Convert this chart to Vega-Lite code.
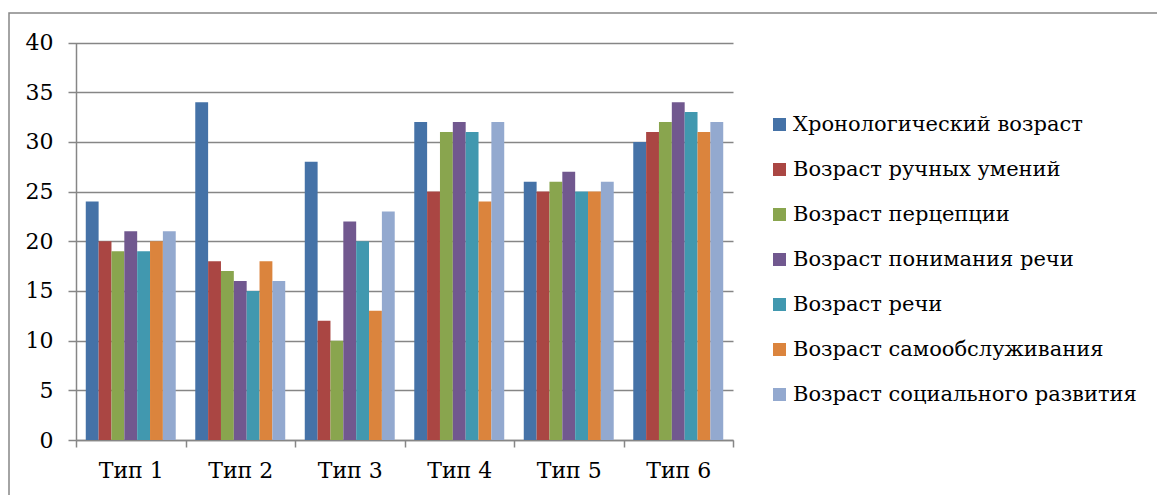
{
  "$schema": "https://vega.github.io/schema/vega-lite/v6.json",
  "autosize": {"type": "none"},
  "padding": {"left": 9, "top": 13, "right": 0, "bottom": 0},
  "width": 1152,
  "height": 486,
  "background": "white",
  "config": {
    "view": {"stroke": "#868686", "strokeWidth": 1.5},
    "axis": {
      "labelFont": "DejaVu Serif",
      "labelFontSize": 22,
      "labelColor": "#000000",
      "domainColor": "#868686",
      "domainWidth": 1.5,
      "tickColor": "#868686",
      "tickWidth": 1.5,
      "gridColor": "#868686",
      "gridWidth": 1.5,
      "title": null
    },
    "legend": {
      "labelFont": "DejaVu Serif",
      "labelFontSize": 21,
      "labelColor": "#000000",
      "labelLimit": 400
    }
  },
  "data": {
    "values": [
      {"type": "Тип 1", "series": "Хронологический возраст", "value": 24},
      {"type": "Тип 1", "series": "Возраст ручных умений", "value": 20},
      {"type": "Тип 1", "series": "Возраст перцепции", "value": 19},
      {"type": "Тип 1", "series": "Возраст понимания речи", "value": 21},
      {"type": "Тип 1", "series": "Возраст речи", "value": 19},
      {"type": "Тип 1", "series": "Возраст самообслуживания", "value": 20},
      {"type": "Тип 1", "series": "Возраст социального развития", "value": 21},
      {"type": "Тип 2", "series": "Хронологический возраст", "value": 34},
      {"type": "Тип 2", "series": "Возраст ручных умений", "value": 18},
      {"type": "Тип 2", "series": "Возраст перцепции", "value": 17},
      {"type": "Тип 2", "series": "Возраст понимания речи", "value": 16},
      {"type": "Тип 2", "series": "Возраст речи", "value": 15},
      {"type": "Тип 2", "series": "Возраст самообслуживания", "value": 18},
      {"type": "Тип 2", "series": "Возраст социального развития", "value": 16},
      {"type": "Тип 3", "series": "Хронологический возраст", "value": 28},
      {"type": "Тип 3", "series": "Возраст ручных умений", "value": 12},
      {"type": "Тип 3", "series": "Возраст перцепции", "value": 10},
      {"type": "Тип 3", "series": "Возраст понимания речи", "value": 22},
      {"type": "Тип 3", "series": "Возраст речи", "value": 20},
      {"type": "Тип 3", "series": "Возраст самообслуживания", "value": 13},
      {"type": "Тип 3", "series": "Возраст социального развития", "value": 23},
      {"type": "Тип 4", "series": "Хронологический возраст", "value": 32},
      {"type": "Тип 4", "series": "Возраст ручных умений", "value": 25},
      {"type": "Тип 4", "series": "Возраст перцепции", "value": 31},
      {"type": "Тип 4", "series": "Возраст понимания речи", "value": 32},
      {"type": "Тип 4", "series": "Возраст речи", "value": 31},
      {"type": "Тип 4", "series": "Возраст самообслуживания", "value": 24},
      {"type": "Тип 4", "series": "Возраст социального развития", "value": 32},
      {"type": "Тип 5", "series": "Хронологический возраст", "value": 26},
      {"type": "Тип 5", "series": "Возраст ручных умений", "value": 25},
      {"type": "Тип 5", "series": "Возраст перцепции", "value": 26},
      {"type": "Тип 5", "series": "Возраст понимания речи", "value": 27},
      {"type": "Тип 5", "series": "Возраст речи", "value": 25},
      {"type": "Тип 5", "series": "Возраст самообслуживания", "value": 25},
      {"type": "Тип 5", "series": "Возраст социального развития", "value": 26},
      {"type": "Тип 6", "series": "Хронологический возраст", "value": 30},
      {"type": "Тип 6", "series": "Возраст ручных умений", "value": 31},
      {"type": "Тип 6", "series": "Возраст перцепции", "value": 32},
      {"type": "Тип 6", "series": "Возраст понимания речи", "value": 34},
      {"type": "Тип 6", "series": "Возраст речи", "value": 33},
      {"type": "Тип 6", "series": "Возраст самообслуживания", "value": 31},
      {"type": "Тип 6", "series": "Возраст социального развития", "value": 32}
    ]
  },
  "mark": {"type": "bar"},
  "encoding": {
    "x": {
      "field": "type",
      "type": "nominal",
      "sort": null,
      "scale": {"range": [67, 724], "paddingInner": 0, "paddingOuter": 0},
      "axis": {
        "labelAngle": 0,
        "tickBand": "extent",
        "tickSize": 7,
        "labelPadding": 13,
        "offset": -59,
        "grid": false
      }
    },
    "xOffset": {
      "field": "series",
      "type": "nominal",
      "sort": null,
      "scale": {"paddingInner": 0, "paddingOuter": 0.76}
    },
    "y": {
      "field": "value",
      "type": "quantitative",
      "scale": {"domain": [0, 40], "range": [427, 29.5], "nice": false, "zero": true},
      "axis": {
        "values": [0, 5, 10, 15, 20, 25, 30, 35, 40],
        "tickSize": 8,
        "labelPadding": 15,
        "offset": -67,
        "grid": true
      }
    },
    "color": {
      "field": "series",
      "type": "nominal",
      "sort": null,
      "scale": {
        "domain": [
          "Хронологический возраст",
          "Возраст ручных умений",
          "Возраст перцепции",
          "Возраст понимания речи",
          "Возраст речи",
          "Возраст самообслуживания",
          "Возраст социального развития"
        ],
        "range": ["#4572A7", "#AA4643", "#89A54E", "#71588F", "#4198AF", "#DB843D", "#93A9CF"]
      },
      "legend": {
        "title": null,
        "orient": "none",
        "legendX": 760,
        "legendY": 101,
        "symbolType": "square",
        "symbolSize": 169,
        "symbolStrokeWidth": 0,
        "symbolOpacity": 1,
        "labelOffset": 3,
        "rowPadding": 23
      }
    }
  }
}
